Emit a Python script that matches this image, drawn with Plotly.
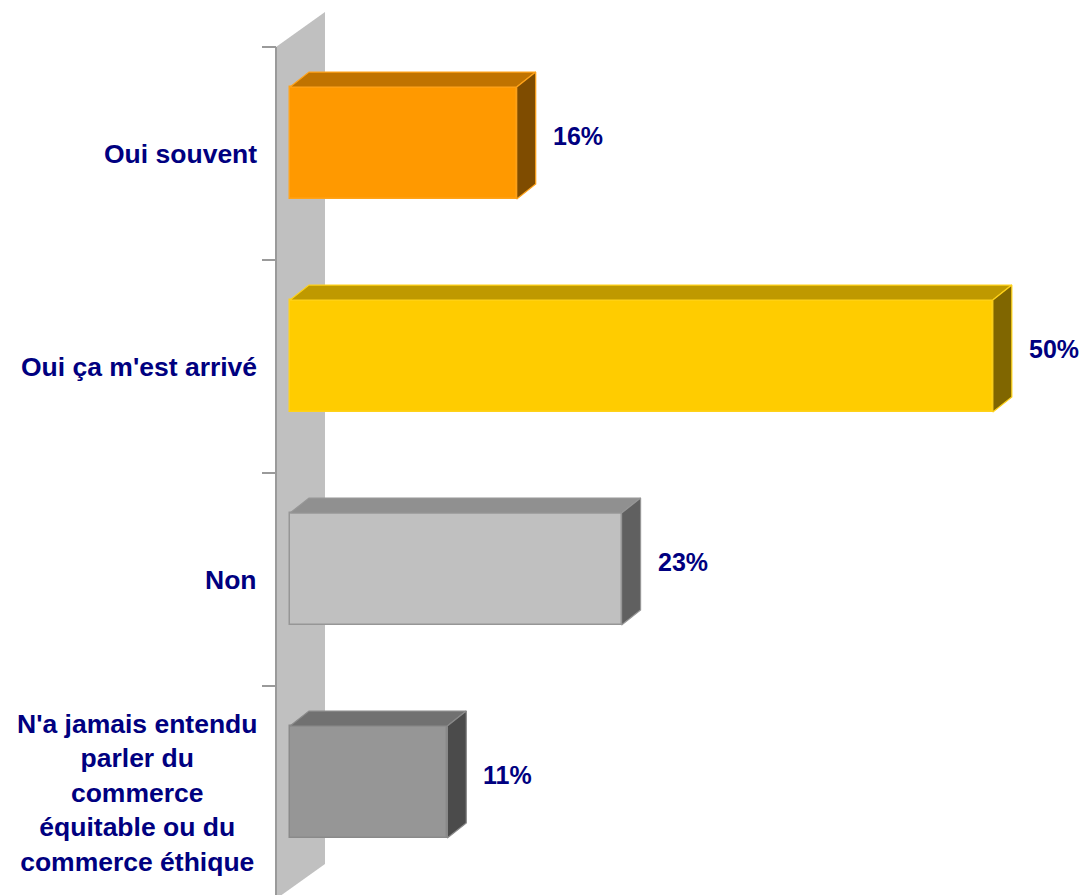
import plotly.graph_objects as go

categories = ["Oui souvent", "Oui ça m'est arrivé", "Non",
              "N'a jamais entendu<br>parler du<br>commerce<br>équitable ou du<br>commerce éthique"]
values = [16.0, 49.6, 23.4, 11.1]
labels = ["16%", "50%", "23%", "11%"]
front_colors = ["#FF9900", "#FFCC00", "#C0C0C0", "#969696"]
top_colors = ["#C07300", "#BF9900", "#909090", "#717171"]
side_colors = ["#7F4C00", "#806600", "#606060", "#4B4B4B"]
edge_colors = ["#FFA31A", "#FFD21A", "#969696", "#8A8A8A"]

# geometry (style constants)
W, H = 1084, 895
PX_PER_X = 14.17          # pixels per percent
ZERO_PX = 290             # pixel of value 0 (front face of bars)
BAND_PX = 213             # pixels per category band
BAND0_PX = 153.5          # centre of first band on front plane
DDX = 19 / PX_PER_X       # bar depth offset in x units
DDY = -15 / BAND_PX       # bar depth offset in y units
BAR_SHIFT = -0.049
BAR_HALF = 0.263
WALL_FX = -14 / PX_PER_X
WALL_BX = 35 / PX_PER_X
WALL_DY = -35 / BAND_PX
TICK_X0 = -28 / PX_PER_X
NAVY = "#000080"
FONT = "Liberation Sans, Arial, sans-serif"

xmin = -ZERO_PX / PX_PER_X
xmax = (W - ZERO_PX) / PX_PER_X
ytop = -BAND0_PX / BAND_PX
ybot = (H - BAND0_PX) / BAND_PX

n = len(categories)
fig = go.Figure()
shapes = []

# wall
y0w, y1w = -0.5, n - 0.5
shapes.append(dict(type="path", layer="below", xref="x", yref="y",
                   path=f"M {WALL_FX},{y0w} L {WALL_BX},{y0w + WALL_DY} L {WALL_BX},{y1w + WALL_DY} L {WALL_FX},{y1w} Z",
                   fillcolor="#C0C0C0", line=dict(width=0)))
# axis line
shapes.append(dict(type="line", layer="below", xref="x", yref="y",
                   x0=WALL_FX, x1=WALL_FX, y0=y0w, y1=y1w,
                   line=dict(color="#9A9A9A", width=2)))
# ticks
for k in range(n + 1):
    yy = k - 0.5
    shapes.append(dict(type="line", layer="below", xref="x", yref="y",
                       x0=TICK_X0, x1=WALL_FX, y0=yy, y1=yy,
                       line=dict(color="#9A9A9A", width=2)))

ys = [i + BAR_SHIFT for i in range(n)]
fig.add_trace(go.Bar(
    x=values, y=ys, orientation="h", width=2 * BAR_HALF,
    marker=dict(color=front_colors, line=dict(color=edge_colors, width=1.5)),
    hoverinfo="skip", showlegend=False))

for i, v in enumerate(values):
    t = ys[i] - BAR_HALF
    b = ys[i] + BAR_HALF
    # top face
    fig.add_trace(go.Scatter(
        x=[0, v, v + DDX, DDX, 0], y=[t, t, t + DDY, t + DDY, t],
        fill="toself", fillcolor=top_colors[i], mode="lines",
        line=dict(color=edge_colors[i], width=1.2), hoverinfo="skip", showlegend=False))
    # side face
    fig.add_trace(go.Scatter(
        x=[v, v + DDX, v + DDX, v, v], y=[t, t + DDY, b + DDY, b, t],
        fill="toself", fillcolor=side_colors[i], mode="lines",
        line=dict(color=edge_colors[i], width=1.2), hoverinfo="skip", showlegend=False))

annotations = []
for i, v in enumerate(values):
    annotations.append(dict(
        x=v + DDX, y=ys[i] + DDY / 2, xref="x", yref="y", text=labels[i],
        showarrow=False, xanchor="left", yanchor="middle", xshift=15,
        font=dict(family=FONT, size=25, color=NAVY, weight="bold")))
    annotations.append(dict(
        x=TICK_X0, y=i, xref="x", yref="y", text=categories[i],
        showarrow=False, xanchor="right", yanchor="middle", xshift=-3,
        align="center",
        font=dict(family=FONT, size=26.5, color=NAVY, weight="bold")))

fig.update_layout(
    width=W, height=H, margin=dict(l=0, r=0, t=0, b=0),
    plot_bgcolor="white", paper_bgcolor="white",
    xaxis=dict(range=[xmin, xmax], visible=False, fixedrange=True),
    yaxis=dict(range=[ybot, ytop], visible=False, fixedrange=True),
    shapes=shapes, annotations=annotations, bargap=0,
)

fig.write_html("out.html")
